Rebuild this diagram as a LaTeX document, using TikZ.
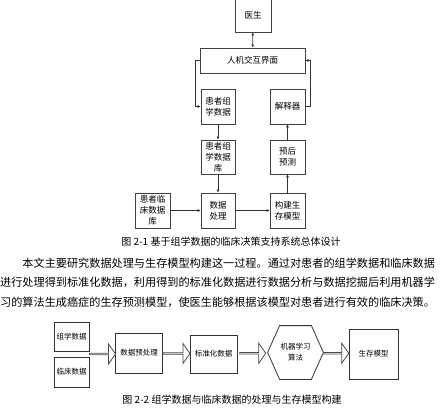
\documentclass[tikz,border=0pt]{standalone}
\usepackage{fontspec}
\setmainfont{Noto Sans CJK SC}
\usepackage{tikz}
\usetikzlibrary{arrows.meta,shapes.arrows}
\tikzset{
    every node/.style={align=center,},
    unit/.style={draw=black!75,line width=0.9pt,rectangle,inner sep=1pt,font=\fontsize{8.5}{11}\selectfont,},
    stage/.style={draw=black!80,line width=0.8pt,rectangle,inner sep=1pt,font=\fontsize{7.5}{11}\selectfont,},
    flow/.style={single arrow,draw=black!70,fill=white,line width=0.8pt,inner sep=0pt,minimum width=20pt,single arrow head extend=5pt,single arrow tip angle=110,},
    link/.style={draw=black!80,line width=0.7pt,-{Latex[length=3pt,width=3pt]},},
    caption/.style={font=\fontsize{10}{12}\selectfont,},
}

\begin{document}
\begin{tikzpicture}[x=1pt,y=-1pt]
                \useasboundingbox (0,0) rectangle (440,420);

                % system design
                \node[unit,minimum width=36pt,minimum height=34pt] (doctor) at (253,15) {医生};
                \node[unit,minimum width=105pt,minimum height=25pt] (hci) at (252.5,60.5) {人机交互界面};

                \node[unit,minimum width=34pt,minimum height=35pt] (omics) at (218,106.5) {患者组\\学数据};
                \node[unit,minimum width=35pt,minimum height=35pt] (interp) at (287.5,106.5) {解释器};

                \node[unit,minimum width=34pt,minimum height=34pt] (omicsdb) at (218,157) {患者组\\学数据\\库};
                \node[unit,minimum width=35pt,minimum height=34pt] (prog) at (287.5,157) {预后\\预测};

                \node[unit,minimum width=35pt,minimum height=35pt] (clinicdb) at (152.5,210.5) {患者临\\床数据\\库};
                \node[unit,minimum width=34pt,minimum height=35pt] (proc) at (218,210.5) {数据\\处理};
                \node[unit,minimum width=35pt,minimum height=35pt] (model) at (287.5,210.5) {构建生\\存模型};

                \draw[link,{Latex[length=3pt,width=3pt]}-{Latex[length=3pt,width=3pt]}] (doctor) to (hci);
                \draw[link] (hci.west) -- ++(-4,0) |- (omics.west);
                \draw[link] (interp.east) -- ++(5,0) |- (hci.east);
                \draw[link] (omics) to (omicsdb);
                \draw[link] (omicsdb) to (proc);
                \draw[link] (clinicdb) to (proc);
                \draw[link] (proc) to (model);
                \draw[link] (model) to (prog);
                \draw[link] (prog) to (interp);

                \node[caption] (cap1) at (231,242) {图 2-1 基于组学数据的临床决策支持系统总体设计};

                \node[anchor=base west,align=left,inner sep=0pt,font=\fontsize{11.15}{19.5}\selectfont] (para) at (0,306.2) {\hspace{22.3pt}本文主要研究数据处理与生存模型构建这一过程。通过对患者的组学数据和临床数据\\进行处理得到标准化数据，利用得到的标准化数据进行数据分析与数据挖掘后利用机器学\\习的算法生成癌症的生存预测模型，使医生能够根据该模型对患者进行有效的临床决策。};

                % processing pipeline
                \node[stage,minimum width=35pt,minimum height=29pt] (omicsdata) at (71.5,336.5) {组学数据};
                \node[stage,minimum width=35pt,minimum height=30pt] (clinicdata) at (71.5,372) {临床数据};
                \node[stage,minimum width=47pt,minimum height=40pt] (prep) at (139,353) {数据预处理};
                \node[stage,minimum width=47pt,minimum height=38pt] (std) at (213.5,354) {标准化数据};
                \node[stage,draw=none,minimum width=55pt,minimum height=53pt] (ml) at (295.5,352.5) {机器学习\\算法};
                \node[stage,minimum width=49pt,minimum height=50pt] (surv) at (373.5,354) {生存模型};

                \draw[black!80,line width=0.8pt] (ml.west) -- ([xshift=12pt]ml.north west) -- ([xshift=-12pt]ml.north east) -- (ml.east) -- ([xshift=-12pt]ml.south east) -- ([xshift=12pt]ml.south west) -- cycle;

                \path (omicsdata.south east) -- coordinate[pos=0.5] (join) (clinicdata.north east);
                \path (join) -- node[flow,minimum height=26pt] {} (join -| prep.west);
                \path (prep.east) -- node[flow,minimum height=27pt] {} (std.west);
                \path (std.east) -- node[flow,minimum height=26pt] {} (ml.west);
                \path (ml.east) -- node[flow,minimum height=25pt] {} (surv.west);

                \node[caption] (cap2) at (232,400) {图 2-2 组学数据与临床数据的处理与生存模型构建};
            \end{tikzpicture}
\end{document}
